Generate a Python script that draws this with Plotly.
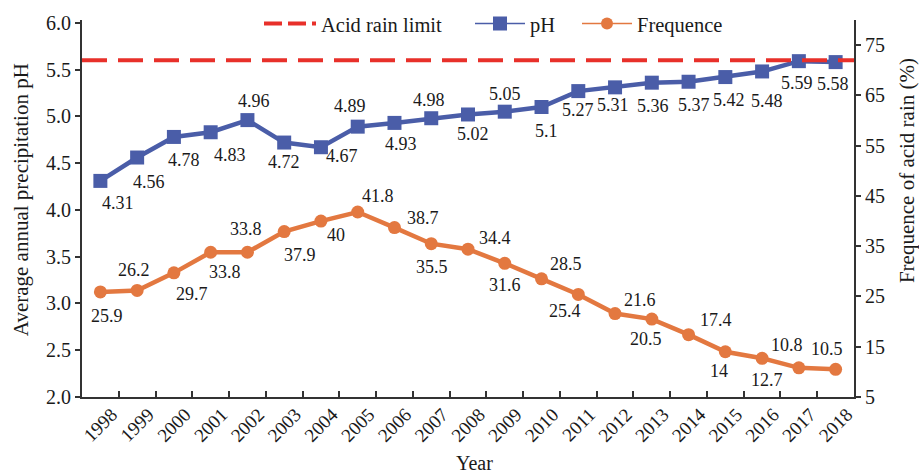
import plotly.graph_objects as go

# ---------------- data ----------------
years = [1998, 1999, 2000, 2001, 2002, 2003, 2004, 2005, 2006, 2007, 2008,
         2009, 2010, 2011, 2012, 2013, 2014, 2015, 2016, 2017, 2018]
ph_values = [4.31, 4.56, 4.78, 4.83, 4.96, 4.72, 4.67, 4.89, 4.93, 4.98, 5.02,
             5.05, 5.1, 5.27, 5.31, 5.36, 5.37, 5.42, 5.48, 5.59, 5.58]
freq_values = [25.9, 26.2, 29.7, 33.8, 33.8, 37.9, 40, 41.8, 38.7, 35.5, 34.4,
               31.6, 28.5, 25.4, 21.6, 20.5, 17.4, 14, 12.7, 10.8, 10.5]
acid_rain_limit = 5.6
year_labels = [str(y) for y in years]
left_ticks = [2.0, 2.5, 3.0, 3.5, 4.0, 4.5, 5.0, 5.5, 6.0]
right_ticks = [5, 15, 25, 35, 45, 55, 65, 75]

# ---------------- styles ----------------
BLUE = "#4A5DA8"
ORANGE = "#E37840"
RED = "#E8302A"
TXT = "#1a1a1a"
AX = "#333333"
FONT = "Liberation Serif"

# label offsets in px (dx right, dy down) -- styling only
ph_off = [(18, 22), (12, 24), (10, 23), (19, 23), (7, -19), (0, 19), (21, 9),
          (-8, -21), (7, 21), (-2, -18), (5, 20), (0, -18), (5, 24), (0, 19),
          (-2, 18), (1, 23), (5, 23), (4, 23), (5, 30), (-2, 22), (-3, 22)]
fr_off = [(7, 24), (-3, -20), (18, 21), (14, 20), (-1, -23), (16, 23), (15, 14),
          (20, -16), (29, -10), (1, 23), (27, -11), (0, 22), (24, -15), (-13, 17),
          (25, -14), (-6, 20), (27, -15), (-6, 19), (5, 22), (-12, -23), (-9, -20)]

fig = go.Figure()

# data traces
fig.add_trace(go.Scatter(
    x=years, y=ph_values, mode="lines+markers", name="pH", showlegend=False,
    line=dict(color=BLUE, width=4.5),
    marker=dict(symbol="square", size=14, color=BLUE), yaxis="y"))
fig.add_trace(go.Scatter(
    x=years, y=freq_values, mode="lines+markers", name="Frequence", showlegend=False,
    line=dict(color=ORANGE, width=4.5),
    marker=dict(symbol="circle", size=13, color=ORANGE), yaxis="y2"))

# legend-only entries (no drawn marks)
fig.add_trace(go.Scatter(x=[None], y=[None], mode="lines", name="Acid rain limit",
                         line=dict(color=RED, width=4, dash="18px,6px"), legend="legend"))
fig.add_trace(go.Scatter(x=[None], y=[None], mode="lines+markers", name="pH",
                         line=dict(color=BLUE, width=1.5),
                         marker=dict(symbol="square", size=14, color=BLUE), legend="legend2"))
fig.add_trace(go.Scatter(x=[None], y=[None], mode="lines+markers", name="Frequence",
                         line=dict(color=ORANGE, width=1.5),
                         marker=dict(symbol="circle", size=12, color=ORANGE), legend="legend3"))

# acid rain limit line
fig.add_shape(type="line", xref="x domain", x0=0, x1=1, yref="y",
              y0=acid_rain_limit, y1=acid_rain_limit,
              line=dict(color=RED, width=4, dash="25px,11px"), layer="above")

annotations = []
for yr, v, (dx, dy) in zip(years, ph_values, ph_off):
    annotations.append(dict(x=yr, y=v, xref="x", yref="y", text=f"{v:g}",
                            showarrow=False, xshift=dx, yshift=-dy,
                            font=dict(family=FONT, size=18, color=TXT)))
for yr, v, (dx, dy) in zip(years, freq_values, fr_off):
    annotations.append(dict(x=yr, y=v, xref="x", yref="y2", text=f"{v:g}",
                            showarrow=False, xshift=dx, yshift=-dy,
                            font=dict(family=FONT, size=18, color=TXT)))
# axis titles
annotations.append(dict(text="Average annual precipitation pH", xref="paper", yref="paper",
                        x=-0.079, y=0.522, xanchor="center", yanchor="middle",
                        textangle=-90, showarrow=False,
                        font=dict(family=FONT, size=21, color=TXT)))
annotations.append(dict(text="Frequence of acid rain (%)", xref="paper", yref="paper",
                        x=1.069, y=0.60, xanchor="center", yanchor="middle",
                        textangle=-90, showarrow=False,
                        font=dict(family=FONT, size=21, color=TXT)))
annotations.append(dict(text="Year", xref="paper", yref="paper",
                        x=0.508, y=-0.176, xanchor="center", yanchor="middle",
                        showarrow=False,
                        font=dict(family=FONT, size=20, color=TXT)))

legend_common = dict(orientation="h", yanchor="middle", y=0.99, xanchor="left",
                     bgcolor="rgba(0,0,0,0)", borderwidth=0,
                     font=dict(family=FONT, size=20.5, color=TXT))

fig.update_layout(
    width=919, height=473,
    margin=dict(l=82, r=65, t=20, b=76, autoexpand=False),
    paper_bgcolor="white", plot_bgcolor="white",
    font=dict(family=FONT, size=20, color=TXT),
    annotations=annotations,
    legend=dict(x=0.2293, itemwidth=52, **legend_common),
    legend2=dict(x=0.5026, itemwidth=50, **legend_common),
    legend3=dict(x=0.6412, itemwidth=50, **legend_common),
    xaxis=dict(range=[1997.5, 2018.5], tickmode="array",
               tickvals=[y + 0.5 for y in years], ticktext=year_labels,
               tickangle=-45, ticks="inside", ticklen=6, tickwidth=2, tickcolor=AX,
               ticklabelshift=-7, ticklabelstandoff=-3,
               showline=True, linecolor=AX, linewidth=2, showgrid=False, zeroline=False,
               automargin=False,
               tickfont=dict(family=FONT, size=19, color=TXT)),
    yaxis=dict(range=[2, 6.03], tickmode="array", tickvals=left_ticks,
               ticktext=[f"{t:.1f}" for t in left_ticks],
               ticks="outside", ticklen=5, tickwidth=2, tickcolor=AX,
               showline=True, linecolor=AX, linewidth=2, showgrid=False, zeroline=False,
               automargin=False,
               tickfont=dict(family=FONT, size=20, color=TXT)),
    yaxis2=dict(range=[5, 80], overlaying="y", side="right", tickmode="array",
                tickvals=right_ticks, ticks="outside", ticklen=5, tickwidth=2, tickcolor=AX,
                showline=True, linecolor=AX, linewidth=2, showgrid=False, zeroline=False,
                automargin=False,
                tickfont=dict(family=FONT, size=20, color=TXT)),
)

fig.write_html("out.html", config={"displayModeBar": False},
               post_script="document.body.style.margin='0px';document.body.style.overflow='hidden';")
